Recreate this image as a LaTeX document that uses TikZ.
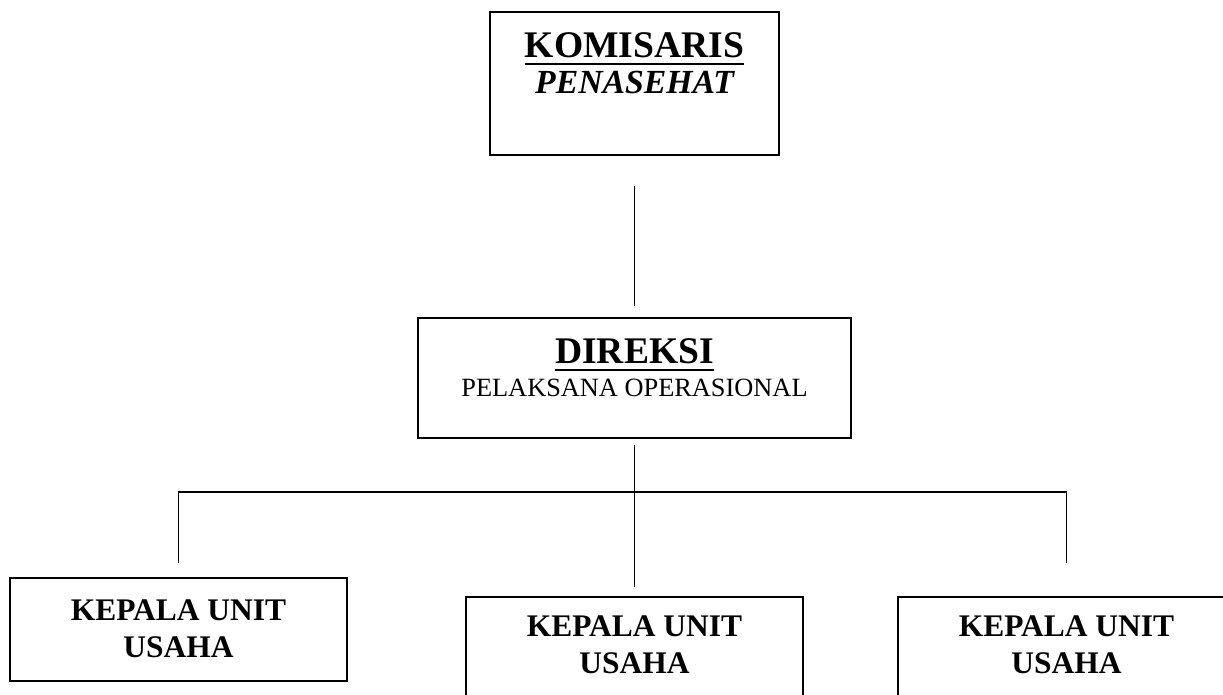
\documentclass[tikz,border=0pt]{standalone}
\usepackage{fontspec}
\setmainfont{Liberation Serif}
\newcommand{\ulbold}[1]{\vtop{\hbox{\bfseries #1}\kern3pt\hrule height 1.2pt}}

\begin{document}
\begin{tikzpicture}[x = 0.02cm, y = -0.02cm, line width = 0.9pt,
		orgbox/.style = {draw, rectangle, inner sep = 0pt, line width = 1.1pt},
		unitbox/.style = {orgbox, minimum width = 6.74cm, minimum height = 2.06cm},
		unittext/.style = {align = center, anchor = base, font = \fontsize{17.9}{21}\selectfont\bfseries}]
			\useasboundingbox (0,0) rectangle (1223,694);
			\clip (0,0) rectangle (1223,694);
			% boxes
			\node (kom) at (634.5,83.5) [orgbox, minimum width = 5.78cm, minimum height = 2.86cm] {};
			\node (dir) at (634.5,378) [orgbox, minimum width = 8.66cm, minimum height = 2.4cm] {};
			\node (u1) at (178.5,629.5) [unitbox] {};
			\node (u2) at (634.5,648.5) [unitbox] {};
			\node (u3) at (1066.5,648.5) [unitbox] {};
			% texts (base = last line)
			\node (komT) at (634.5,57) [anchor = base, font = \fontsize{21.4}{24}\selectfont] {\ulbold{KOMISARIS}};
			\node (komS) at (634.5,93) [anchor = base, font = \fontsize{19.2}{22}\selectfont\bfseries\itshape] {PENASEHAT};
			\node (dirT) at (634.5,363) [anchor = base, font = \fontsize{21.4}{24}\selectfont] {\ulbold{DIREKSI}};
			\node (dirS) at (634.5,396) [anchor = base, font = \fontsize{15}{18}\selectfont] {PELAKSANA OPERASIONAL};
			\node (u1T) at (178.5,657) [unittext] {KEPALA UNIT\\USAHA};
			\node (u2T) at (634.5,673) [unittext] {KEPALA UNIT\\USAHA};
			\node (u3T) at (1066.5,673) [unittext] {KEPALA UNIT\\USAHA};
			% lines
			\coordinate (bus) at (634.5,492);
			\draw[shorten <= 0.6cm, shorten >= 0.22cm] (kom.south) -- (dir.north);
			\draw[shorten <= 0.12cm, shorten >= 0.18cm] (dir.south) -- (u2.north);
			\draw[shorten <= 0.28cm, shorten >= 0.66cm] (u1.north) |- (bus) -| (u3.north);
			\end{tikzpicture}
\end{document}
